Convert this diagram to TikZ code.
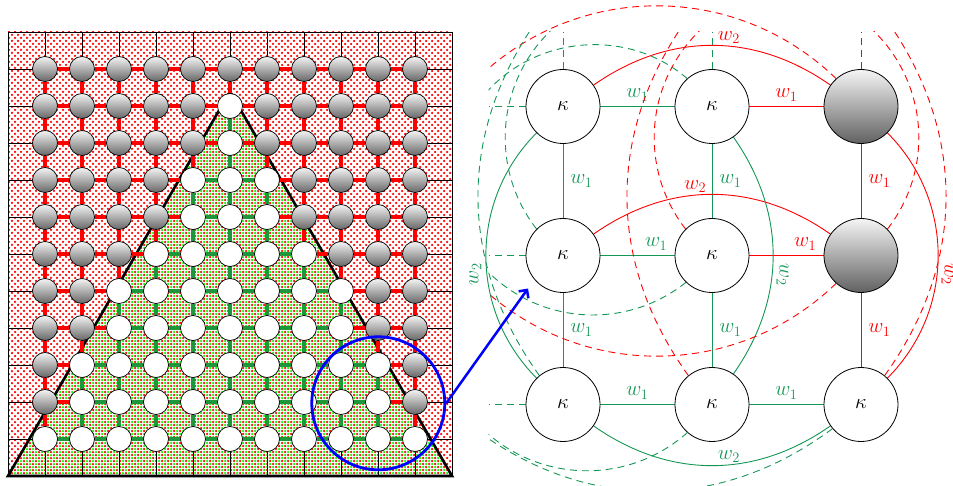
\documentclass[tikz,border=0pt]{standalone}
\usetikzlibrary{patterns,arrows.meta}
\definecolor{mygreen}{RGB}{20,150,85}
\definecolor{edgegreen}{RGB}{30,150,60}
\pgfdeclarepatternformonly{reddots}{\pgfqpoint{-1.5pt}{-1.5pt}}{\pgfqpoint{4.5pt}{4.5pt}}{\pgfqpoint{6pt}{6pt}}{%
  \pgfpathcircle{\pgfqpoint{0pt}{0pt}}{1.25pt}\pgfpathcircle{\pgfqpoint{3pt}{3pt}}{1.25pt}\pgfusepath{fill}}
\pgfdeclarepatternformonly{greendots}{\pgfqpoint{-1.5pt}{-1.5pt}}{\pgfqpoint{4.5pt}{4.5pt}}{\pgfqpoint{6pt}{6pt}}{%
  \pgfpathcircle{\pgfqpoint{3pt}{0pt}}{1.25pt}\pgfpathcircle{\pgfqpoint{0pt}{3pt}}{1.25pt}\pgfusepath{fill}}
\pgfdeclarelayer{background}
\pgfsetlayers{background,main}
\tikzset{
  site/.style={circle, draw=black, line width=0.7pt, minimum size=25pt, inner sep=0pt},
  wsite/.style={site, fill=white},
  gsite/.style={site, top color=black!4, bottom color=black!60},
  bignode/.style={circle, draw=black, line width=0.8pt, minimum size=74pt, inner sep=0pt, fill=white, font=\fontsize{20}{24}\selectfont},
  graynode/.style={circle, draw=black, line width=0.8pt, minimum size=74pt, inner sep=0pt, top color=black!4, bottom color=black!62},
  lbl/.style={font=\fontsize{20}{24}\selectfont, inner sep=2pt},
  gline/.style={mygreen, line width=0.9pt},
  rline/.style={red, line width=0.9pt},
  dsh/.style={dash pattern=on 7pt off 5pt},
  thickred/.style={red, line width=3.6pt},
  thickgreen/.style={edgegreen, line width=3.6pt},
  thin grid/.style={black, line width=0.6pt},
}
\begin{document}
\begin{tikzpicture}[x=1pt,y=1pt]
\useasboundingbox (0,0) rectangle (953,485);
% ---------------- left panel ----------------
\fill[white] (8,9) rectangle (452,453);
\fill[pattern=reddots, pattern color=red] (8,9) rectangle (452,453);
\fill[pattern=greendots, pattern color=green] (8,9) -- (230,393.5) -- (452,9) -- cycle;
\foreach \k in {1,...,11} {
  \draw[thin grid] (8+37*\k, 9) -- (8+37*\k, 453);
  \draw[thin grid] (8, 9+37*\k) -- (452, 9+37*\k);
}
\draw[thin grid] (8,9) rectangle (452,453);
\draw[black, line width=2.6pt, line join=miter] (8,9) -- (230,393.5) -- (452,9) -- cycle;
\foreach \i in {1,...,11} {
  \foreach \j in {1,...,11} {
    \pgfmathtruncatemacro\wa{(abs(37*\i-222) < (384.5-37*\j)/1.7320508) ? 1 : 0}
    \ifnum\wa=1
      \node[wsite] (L-\i-\j) at (8+37*\i, 9+37*\j) {};
    \else
      \node[gsite] (L-\i-\j) at (8+37*\i, 9+37*\j) {};
    \fi
  }
}
\foreach \i in {1,...,11} {
  \foreach \j in {1,...,11} {
    \pgfmathtruncatemacro\wa{(abs(37*\i-222) < (384.5-37*\j)/1.7320508) ? 1 : 0}
    \ifnum\i<11
      \pgfmathtruncatemacro\ii{\i+1}
      \pgfmathtruncatemacro\wb{(abs(37*\ii-222) < (384.5-37*\j)/1.7320508) ? 1 : 0}
      \ifnum\numexpr\wa*\wb\relax=1
        \draw[thickgreen] (L-\i-\j) -- (L-\ii-\j);
      \else
        \draw[thickred] (L-\i-\j) -- (L-\ii-\j);
      \fi
    \fi
    \ifnum\j<11
      \pgfmathtruncatemacro\jj{\j+1}
      \pgfmathtruncatemacro\wb{(abs(37*\i-222) < (384.5-37*\jj)/1.7320508) ? 1 : 0}
      \ifnum\numexpr\wa*\wb\relax=1
        \draw[thickgreen] (L-\i-\j) -- (L-\i-\jj);
      \else
        \draw[thickred] (L-\i-\j) -- (L-\i-\jj);
      \fi
    \fi
  }
}
\node[circle, draw=blue, line width=2.8pt, minimum size=133pt, inner sep=0pt] (zoomc) at (378.3,81.7) {};
\coordinate (atip) at (528,196.5);
\draw[blue, line width=2.5pt, -{Straight Barb[length=6pt,width=12pt]}] (zoomc.east) -- (atip);
% ---------------- right panel ----------------
\node[bignode] (n11) at (563,378.5) {$\kappa$};
\node[bignode] (n21) at (712,378.5) {$\kappa$};
\node[graynode] (n31) at (861,378.5) {};
\node[bignode] (n12) at (563,229.5) {$\kappa$};
\node[bignode] (n22) at (712,229.5) {$\kappa$};
\node[graynode] (n32) at (861,229.5) {};
\node[bignode] (n13) at (563,80.5) {$\kappa$};
\node[bignode] (n23) at (712,80.5) {$\kappa$};
\node[bignode] (n33) at (861,80.5) {$\kappa$};
% half-way points towards the sites outside the window
\coordinate (m01) at (488.5,378.5);
\coordinate (m02) at (488.5,229.5);
\coordinate (m03) at (488.5,80.5);
\coordinate (m10) at (563,453);
\coordinate (m20) at (712,453);
\coordinate (m30) at (861,453);
% far ends of the arcs leaving the window
\coordinate (ta) at (476.5,380);
\coordinate (tb) at (476.5,226);
\coordinate (tc) at (474,65);
\coordinate (tg) at (471.5,400.5);
\coordinate (th) at (471.5,207.5);
\coordinate (tk) at (471.5,58.5);
\coordinate (tP) at (563,465);
\coordinate (tQ) at (541,470);
\coordinate (te) at (712,465);
\coordinate (tE) at (690,470);
\coordinate (ti) at (861,465);
\coordinate (tI) at (883,470);
\begin{pgfonlayer}{background}
% nearest neighbours
\draw[gline] (n11) -- node[lbl,above,yshift=3pt]{$w_1$} (n21);
\draw[rline] (n21) -- node[lbl,above,yshift=3pt]{$w_1$} (n31);
\draw[gline] (n12) -- node[lbl,above,yshift=3pt,pos=0.75]{$w_1$} (n22);
\draw[rline] (n22) -- node[lbl,above,yshift=3pt,pos=0.75]{$w_1$} (n32);
\draw[gline] (n13) -- node[lbl,above,yshift=3pt]{$w_1$} (n23);
\draw[gline] (n23) -- node[lbl,above,yshift=3pt]{$w_1$} (n33);
\draw[gline] (n11) -- node[lbl,right,xshift=5pt]{$w_1$} (n12);
\draw[gline] (n12) -- node[lbl,right,xshift=5pt]{$w_1$} (n13);
\draw[gline] (n21) -- node[lbl,right,xshift=5pt]{$w_1$} (n22);
\draw[gline] (n22) -- node[lbl,right,xshift=5pt]{$w_1$} (n23);
\draw[rline] (n31) -- node[lbl,right,xshift=5pt]{$w_1$} (n32);
\draw[rline] (n32) -- node[lbl,right,xshift=5pt]{$w_1$} (n33);
% next nearest
\draw[rline] (n11) to[bend left=35] node[lbl,above,pos=0.57]{$w_2$} (n31);
\draw[rline] (n12) to[bend left=35] node[lbl,above,pos=0.43]{$w_2$} (n32);
\draw[gline] (n13) to[bend right=35] node[lbl,above,pos=0.57]{$w_2$} (n33);
\draw[gline] (n13) to[bend left=45] node[lbl,anchor=south,rotate=90,pos=0.43,inner sep=5pt]{$w_2$} (n11);
\draw[gline] (n21) to[bend left=35] node[lbl,anchor=south,rotate=-90,pos=0.58,inner sep=4pt]{$w_2$} (n23);
\draw[rline] (n31) to[bend left=45] node[lbl,anchor=south,rotate=-90,pos=0.57,inner sep=4pt]{$w_2$} (n33);
% stubs towards outside sites
\draw[gline,dsh] (n11) -- (m01);
\draw[gline,dsh] (n11) -- (m10);
\draw[gline,dsh] (n21) -- (m20);
\draw[rline,dsh] (n31) -- (m30);
\draw[gline,dsh] (n12) -- (m02);
\draw[gline,dsh] (n13) -- (m03);
% arcs leaving the window
\begin{scope}
\clip (488.5,-20) rectangle (1000,600);
\draw[gline,dsh] (n21) to[bend right=48] (ta);
\draw[gline,dsh] (n22) to[bend left=45] (tb);
\draw[gline,dsh] (n23) to[bend left=45] (tc);
\draw[rline,dsh] (n31) to[bend right=45] (tg);
\draw[rline,dsh] (n32) to[bend left=45] (th);
\draw[gline,dsh] (n33) to[bend left=37] (tk);
\end{scope}
\begin{scope}
\clip (-20,-20) rectangle (1000,453);
\draw[gline,dsh] (n12) to[bend left=45] (tP);
\draw[gline,dsh] (n13) to[bend left=36] (tQ);
\draw[rline,dsh] (n22) to[bend left=45] (te);
\draw[rline,dsh] (n23) to[bend left=36] (tE);
\draw[rline,dsh] (n32) to[bend right=45] (ti);
\draw[rline,dsh] (n33) to[bend right=36] (tI);
\end{scope}
\end{pgfonlayer}
\end{tikzpicture}
\end{document}
